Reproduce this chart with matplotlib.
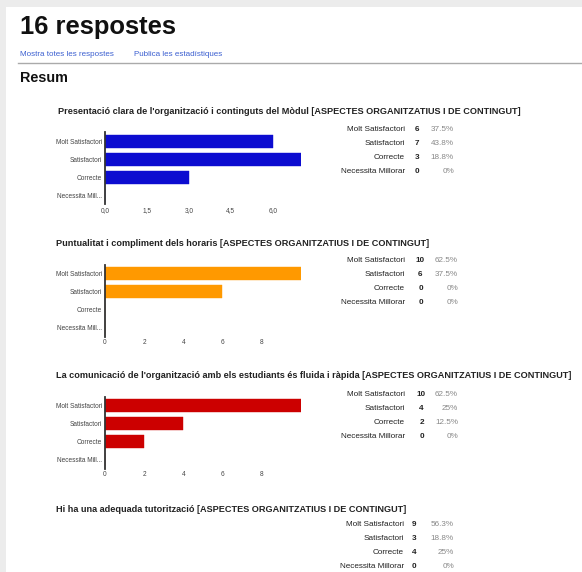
import matplotlib
matplotlib.use('Agg')
import matplotlib.pyplot as plt
from matplotlib.patches import Rectangle

plt.rcParams['font.family'] = ['Liberation Sans', 'DejaVu Sans']

W, H = 582, 572

# dades de les respostes
categories = ['Molt Satisfactori', 'Satisfactori', 'Correcte', 'Necessita Millorar']
axis_labels = ['Molt Satisfactori', 'Satisfactori', 'Correcte', 'Necessita Mill...']

titles = [
    "Presentació clara de l'organització i continguts del Mòdul [ASPECTES ORGANITZATIUS I DE CONTINGUT]",
    "Puntualitat i compliment dels horaris [ASPECTES ORGANITZATIUS I DE CONTINGUT]",
    "La comunicació de l'organització amb els estudiants és fluida i ràpida [ASPECTES ORGANITZATIUS I DE CONTINGUT]",
    "Hi ha una adequada tutorització [ASPECTES ORGANITZATIUS I DE CONTINGUT]",
]
counts_q1 = [6, 7, 3, 0]
counts_q2 = [10, 6, 0, 0]
counts_q3 = [10, 4, 2, 0]
counts_q4 = [9, 3, 4, 0]
pcts_q1 = ['37.5%', '43.8%', '18.8%', '0%']
pcts_q2 = ['62.5%', '37.5%', '0%', '0%']
pcts_q3 = ['62.5%', '25%', '12.5%', '0%']
pcts_q4 = ['56.3%', '18.8%', '25%', '0%']

ticks_q1 = [0, 1.5, 3, 4.5, 6]
ticklabels_q1 = ['0,0', '1,5', '3,0', '4,5', '6,0']
ticks_q23 = [0, 2, 4, 6, 8]
ticklabels_q23 = ['0', '2', '4', '6', '8']


def fx(x):
    return x / W


def fy(y):
    return 1 - y / H


fig = plt.figure(figsize=(W / 100, H / 100), dpi=100)
fig.patch.set_facecolor('#ececec')
fig.patches.append(Rectangle((fx(6), 0), 1 - fx(6), fy(7), transform=fig.transFigure,
                             facecolor='white', edgecolor='none', zorder=-10))

# capçalera
fig.text(fx(20), fy(27), '16 respostes', fontsize=18.4, fontweight='bold', color='#111',
         ha='left', va='center')
fig.text(fx(20), fy(55), 'Mostra totes les respostes', fontsize=5.8, color='#3b5fd0',
         ha='left', va='center')
fig.text(fx(134), fy(55), 'Publica les estadístiques', fontsize=5.8, color='#3b5fd0',
         ha='left', va='center')
fig.add_artist(plt.Line2D([fx(18), 1], [fy(63), fy(63)], color='#aaaaaa', lw=1.0,
                          transform=fig.transFigure))
fig.text(fx(20), fy(78), 'Resum', fontsize=10.4, fontweight='bold', color='#111',
         ha='left', va='center')


def draw_bars(counts, color, top, xmax, ticks, ticklabels):
    band = 18
    ax = fig.add_axes([fx(105), fy(top + 4 * band), (300.7 - 105) / W, 4 * band / H])
    ax.barh(range(4), counts, height=0.7, color=color, edgecolor=color, lw=0.3)
    ax.set_xlim(0, xmax)
    ax.set_ylim(3.5, -0.5)
    ax.set_facecolor('none')
    for s in ['top', 'right', 'bottom']:
        ax.spines[s].set_visible(False)
    ax.spines['left'].set_color('#333333')
    ax.spines['left'].set_linewidth(1.3)
    ax.set_yticks(range(4))
    ax.set_yticklabels(axis_labels, fontsize=4.7, color='#444')
    ax.set_xticks(ticks)
    ax.set_xticklabels(ticklabels, fontsize=4.7, color='#444')
    ax.tick_params(length=0, pad=2)
    ax.tick_params(axis='x', pad=2)
    return ax


def draw_table(counts, pcts, y0, xl, xc, xp):
    for i in range(4):
        y = y0 + 14 * i
        fig.text(fx(xl), fy(y), categories[i], fontsize=5.9, color='#222',
                 ha='right', va='center')
        fig.text(fx(xc), fy(y), str(counts[i]), fontsize=5.9, color='#222',
                 fontweight='bold', ha='center', va='center')
        fig.text(fx(xp), fy(y), pcts[i], fontsize=5.9, color='#888',
                 ha='right', va='center')


def draw_title(text, x, y):
    fig.text(fx(x), fy(y), text, fontsize=6.6, fontweight='bold', color='#222',
             ha='left', va='center')


# pregunta 1
draw_title(titles[0], 58, 111)
draw_bars(counts_q1, '#0c0cd0', 132.3, 7, ticks_q1, ticklabels_q1)
draw_table(counts_q1, pcts_q1, 129.5, 405, 417, 454)

# pregunta 2
draw_title(titles[1], 56, 243)
draw_bars(counts_q2, '#ff9900', 264.7, 10, ticks_q23, ticklabels_q23)
draw_table(counts_q2, pcts_q2, 260.5, 405, 420.5, 458)

# pregunta 3
draw_title(titles[2], 56, 376)
draw_bars(counts_q3, '#cc0000', 396.5, 10, ticks_q23, ticklabels_q23)
draw_table(counts_q3, pcts_q3, 394, 405, 421.5, 458)

# pregunta 4
draw_title(titles[3], 56, 509)
draw_table(counts_q4, pcts_q4, 525, 404, 414, 454)

fig.savefig('out.png', dpi=100)
